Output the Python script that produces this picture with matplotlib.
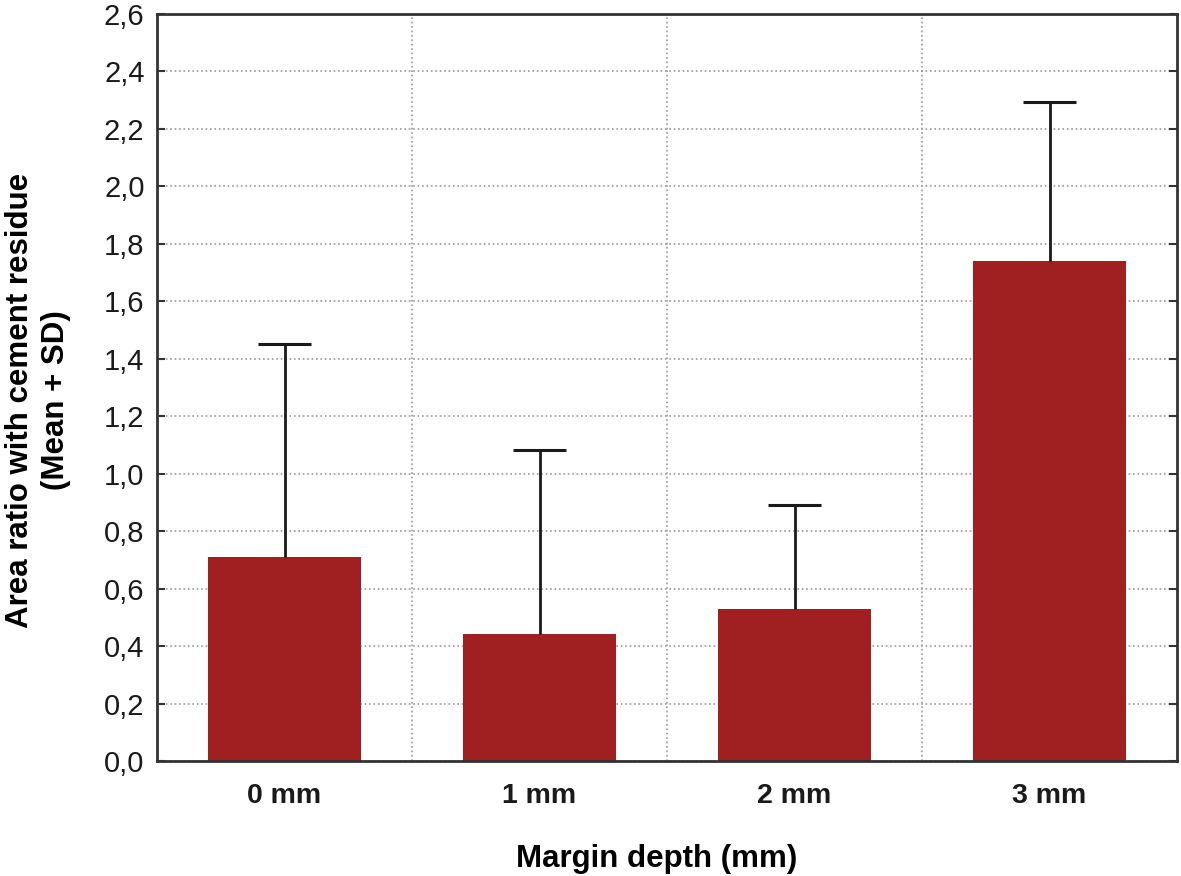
import numpy as np
import matplotlib.pyplot as plt
from matplotlib.ticker import FuncFormatter, FixedLocator

plt.rcParams['font.family'] = ['Liberation Sans', 'DejaVu Sans']

categories = ['0 mm', '1 mm', '2 mm', '3 mm']
means = [0.71, 0.442, 0.529, 1.74]
sds = [0.741, 0.640, 0.362, 0.554]

bar_color = '#A01F20'

fig = plt.figure(figsize=(11.81, 8.76), dpi=100)
ax = fig.add_axes([157 / 1181, 1 - 761 / 876, 1020 / 1181, 747 / 876])

x = np.arange(len(categories))
means = np.array(means)
tops = means + np.array(sds)
ax.bar(x, means, width=0.6, color=bar_color, zorder=2)

# only the upper half of the error bar (mean + SD)
ax.vlines(x, means, tops, color='#1a1a1a', linewidth=2, zorder=3)
ax.hlines(tops, x - 0.104, x + 0.104, color='#1a1a1a', linewidth=2.2, zorder=3)

ax.set_xlim(-0.5, len(categories) - 0.5)
ax.set_ylim(0, 2.6)
ax.set_yticks(np.arange(0, 2.61, 0.2))
ax.yaxis.set_major_formatter(FuncFormatter(lambda v, p: f'{v:.1f}'.replace('.', ',')))
ax.set_xticks(x)
ax.set_xticklabels(categories, fontweight='bold', fontsize=20.5)

# grid: horizontal at y ticks, vertical between categories
ax.yaxis.grid(True, linestyle=':', color='#9a9a9a', linewidth=1.2, zorder=0)
ax.xaxis.set_minor_locator(FixedLocator(x[:-1] + 0.5))
ax.xaxis.grid(True, which='minor', linestyle=':', color='#9a9a9a', linewidth=1.2, zorder=0)
ax.set_axisbelow(True)

ax.tick_params(axis='y', direction='in', length=6, width=1.5, labelsize=21,
               right=True, pad=9, colors='#333333', labelcolor='#1a1a1a')
ax.tick_params(axis='x', direction='in', length=6, width=1.5, pad=16,
               colors='#333333', labelcolor='#1a1a1a')
ax.tick_params(axis='x', which='minor', length=0)

for s in ax.spines.values():
    s.set_linewidth(2)
    s.set_color('#333333')

ax.set_ylabel('Area ratio with cement residue\n(Mean + SD)', fontsize=22.5,
              fontweight='bold', linespacing=1.25, va='center')
ax.yaxis.set_label_coords(-0.117, 0.483)
ax.set_xlabel('Margin depth (mm)', fontsize=22.5, fontweight='bold', va='center')
ax.xaxis.set_label_coords(0.49, -0.131)

fig.savefig('out.png', dpi=100)
